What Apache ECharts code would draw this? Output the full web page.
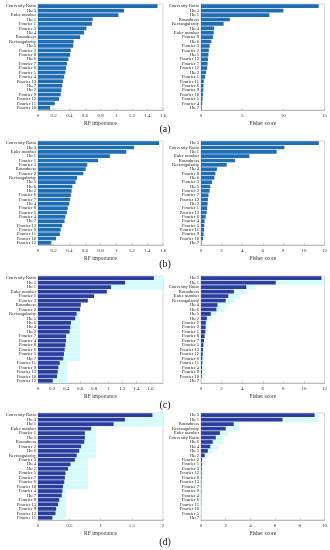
<!DOCTYPE html>
<html><head><meta charset="utf-8">
<script src="https://cdn.jsdelivr.net/npm/echarts@6/dist/echarts.min.js"></script>
<style>html,body{margin:0;padding:0;background:#fff}#c{width:330px;height:550px}</style>
</head><body><div id="c"></div>
<script>
const aLeftCats = ['Convexity Ratio','Hu 3','Euler number','Hu 1','Fourier 1','Fourier 3','Hu 4','Roundness','Rectangularity','Hu 5','Fourier 2','Fourier 8','Hu 6','Fourier 7','Fourier 6','Fourier 5','Fourier 4','Fourier 13','Hu 7','Hu 2','Fourier 9','Fourier 12','Fourier 11','Fourier 10'];
const aLeftVals = [1.53,1.10,1.03,0.70,0.69,0.62,0.59,0.54,0.455,0.45,0.42,0.41,0.39,0.37,0.36,0.35,0.335,0.32,0.31,0.30,0.29,0.27,0.215,0.155];

const aRightCats = ['Convexity Ratio','Hu 3','Hu 1','Roundness','Rectangularity','Hu 4','Euler number','Fourier 8','Hu 6','Fourier 3','Fourier 2','Hu 5','Fourier 13','Fourier 7','Fourier 12','Hu 2','Fourier 1','Fourier 11','Fourier 6','Fourier 9','Fourier 10','Fourier 5','Fourier 4','Hu 7'];
const aRightVals = [14.3,10.0,8.3,3.5,2.75,1.6,1.55,1.45,1.25,1.05,0.95,0.9,0.85,0.8,0.75,0.6,0.5,0.35,0.3,0.28,0.25,0.2,0.15,0.05];

const bLeftCats = ['Convexity Ratio','Hu 3','Euler number','Hu 1','Fourier 1','Fourier 3','Roundness','Fourier 2','Rectangularity','Hu 5','Hu 6','Hu 2','Fourier 6','Fourier 7','Hu 4','Fourier 8','Fourier 5','Fourier 4','Hu 7','Fourier 13','Fourier 9','Fourier 11','Fourier 10','Fourier 12'];
const bLeftVals = [1.55,1.23,1.13,0.92,0.77,0.63,0.61,0.58,0.50,0.48,0.44,0.43,0.42,0.41,0.40,0.38,0.37,0.35,0.34,0.31,0.29,0.28,0.23,0.17];

const bRightCats = ['Hu 3','Convexity Ratio','Hu 1','Euler number','Roundness','Rectangularity','Hu 4','Fourier 8','Hu 6','Fourier 3','Hu 5','Fourier 2','Fourier 7','Fourier 12','Hu 2','Fourier 1','Fourier 13','Fourier 6','Fourier 4','Fourier 5','Fourier 11','Fourier 9','Fourier 10','Hu 7'];
const bRightVals = [11.45,8.1,7.35,4.7,3.3,2.5,1.55,1.4,1.3,1.08,0.9,0.83,0.73,0.67,0.64,0.6,0.55,0.45,0.35,0.32,0.29,0.25,0.2,0.03];

const cLeftCats = ['Convexity Ratio','Hu 3','Hu 1','Euler number','Fourier 1','Fourier 3','Roundness','Fourier 2','Rectangularity','Hu 5','Hu 6','Hu 4','Hu 2','Fourier 7','Fourier 4','Fourier 8','Fourier 6','Fourier 5','Hu 7','Fourier 11','Fourier 9','Fourier 13','Fourier 10','Fourier 12'];
const cLeftVals = [1.65,1.24,1.04,0.98,0.80,0.71,0.61,0.60,0.55,0.53,0.47,0.46,0.45,0.40,0.40,0.39,0.38,0.37,0.36,0.31,0.29,0.28,0.27,0.21];
const cLeftShade = [1.78,1.78,1.78,1.0,0.6,0.6,0.6,0.6,0.6,0.6,0.6,0.6,0.6,0.6,0.6,0.6,0.6,0.6,0.6,0.42,0.42,0.42,0.42,0.42];

const cRightCats = ['Hu 3','Hu 1','Convexity Ratio','Roundness','Euler number','Rectangularity','Hu 4','Hu 6','Hu 5','Hu 2','Fourier 2','Fourier 3','Fourier 1','Fourier 8','Fourier 7','Fourier 5','Fourier 13','Fourier 12','Fourier 6','Fourier 11','Fourier 4','Fourier 9','Fourier 10','Hu 7'];
const cRightVals = [11.7,7.26,4.4,3.2,2.65,2.4,1.6,1.5,0.95,0.57,0.47,0.45,0.42,0.35,0.29,0.22,0.19,0.16,0.13,0.12,0.10,0.09,0.07,0.02];
const cRightShade = [11.9,11.9,5.3,4.4,3.8,3.3,2.5,2.3,1.5,1.05,0.7,0.6,0.5,0.3,0.3,0.3,0.3,0.3,0.3,0.3,0.3,0.3,0.3,0.1];

const dLeftCats = ['Convexity Ratio','Hu 3','Hu 1','Euler number','Fourier 1','Hu 5','Roundness','Fourier 2','Hu 6','Rectangularity','Fourier 3','Hu 4','Hu 2','Fourier 5','Fourier 7','Fourier 6','Fourier 10','Fourier 4','Hu 7','Fourier 8','Fourier 13','Fourier 9','Fourier 12','Fourier 11'];
const dLeftVals = [1.83,1.39,1.21,0.85,0.75,0.75,0.74,0.69,0.66,0.62,0.59,0.52,0.48,0.44,0.43,0.42,0.40,0.39,0.38,0.34,0.32,0.29,0.28,0.23];
const dLeftShade = [2.0,2.0,2.0,0.93,0.93,0.93,0.93,0.93,0.93,0.93,0.8,0.8,0.8,0.8,0.8,0.8,0.8,0.45,0.45,0.45,0.45,0.45,0.45,0.45];

const dRightCats = ['Hu 3','Hu 1','Roundness','Rectangularity','Euler number','Convexity Ratio','Hu 6','Hu 4','Hu 5','Hu 2','Fourier 2','Fourier 1','Fourier 3','Fourier 12','Fourier 8','Fourier 13','Fourier 7','Fourier 9','Fourier 4','Fourier 6','Fourier 11','Fourier 10','Fourier 5','Hu 7'];
const dRightVals = [9.2,6.6,2.65,2.0,1.53,1.2,0.95,0.75,0.55,0.3,0.08,0.07,0.06,0.05,0.05,0.04,0.03,0.03,0.02,0.02,0.02,0.01,0.01,0.005];
const dRightShade = [9.5,9.5,3.1,3.1,2.2,1.8,1.8,1.4,1.0,0.6,0.1,0.1,0.1,0.1,0.1,0.1,0.1,0.1,0.1,0.1,0.1,0.1,0.1,0.05];

const panelLetters = ['(a)','(b)','(c)','(d)'];

const FONT = 'Liberation Serif';
const BLUE = '#1f6db4';
const DARK = '#2f3c9e';
const CYAN = '#d6fbfb';

const panels = [
  {cats:aLeftCats, vals:aLeftVals, max:1.6, interval:0.2, name:'RF importance', col:0, row:0, color:BLUE},
  {cats:aRightCats, vals:aRightVals, max:15, interval:5, name:'Fisher score', col:1, row:0, color:BLUE},
  {cats:bLeftCats, vals:bLeftVals, max:1.6, interval:0.2, name:'RF importance', col:0, row:1, color:BLUE},
  {cats:bRightCats, vals:bRightVals, max:12, interval:2, name:'Fisher score', col:1, row:1, color:BLUE},
  {cats:cLeftCats, vals:cLeftVals, shade:cLeftShade, max:1.78, interval:0.2, name:'RF importance', col:0, row:2, color:DARK},
  {cats:cRightCats, vals:cRightVals, shade:cRightShade, max:12, interval:2, name:'Fisher score', col:1, row:2, color:DARK},
  {cats:dLeftCats, vals:dLeftVals, shade:dLeftShade, max:2, interval:0.5, name:'RF importance', col:0, row:3, color:DARK},
  {cats:dRightCats, vals:dRightVals, shade:dRightShade, max:10, interval:2, name:'Fisher score', col:1, row:3, color:DARK}
];

const rowTop = [4, 141, 276, 413];
const rowH = [106, 104, 107, 107];
const colLeft = [38, 201];
const colW = [125, 125];
const letterY = [130, 265, 406, 543];

const option = {animation:false, backgroundColor:'#fff', grid:[], xAxis:[], yAxis:[], series:[], graphic:[]};

panels.forEach((p, i) => {
  option.grid.push({left:colLeft[p.col], top:rowTop[p.row], width:colW[p.col], height:rowH[p.row],
    show:true, borderColor:'#bbb', borderWidth:0.6, containLabel:false});
  const ratio = p.max / p.interval;
  option.xAxis.push({type:'value', gridIndex:i, min:0, max:p.max, interval:p.interval,
    name:p.name, nameLocation:'middle', nameGap:11,
    nameTextStyle:{fontFamily:FONT, fontSize:5.5, color:'#333'},
    axisLine:{show:true, lineStyle:{color:'#999', width:0.6}},
    axisTick:{show:true, inside:true, length:1.5, lineStyle:{color:'#999', width:0.5}},
    splitLine:{show:false},
    axisLabel:{fontFamily:FONT, fontSize:5, color:'#333', margin:3, showMaxLabel: Math.abs(ratio - Math.round(ratio)) < 1e-9}
  });
  option.yAxis.push({type:'category', gridIndex:i, data:p.cats, inverse:true,
    axisLine:{show:true, lineStyle:{color:'#999', width:0.6}},
    axisTick:{show:false},
    axisLabel:{fontFamily:FONT, fontSize:4.6, color:'#222', margin:2, interval:0}
  });
  if (p.shade) {
    option.series.push({type:'bar', xAxisIndex:i, yAxisIndex:i, data:p.shade, barWidth:'100%',
      itemStyle:{color:CYAN}, silent:true, z:1});
  }
  option.series.push({type:'bar', xAxisIndex:i, yAxisIndex:i, data:p.vals, barWidth:'84%',
    barGap:'-100%', itemStyle:{color:p.color}, z:2});
});

panelLetters.forEach((t, r) => {
  option.graphic.push({type:'text', left:'center', top:letterY[r]-6,
    style:{text:t, font:'10px "Liberation Serif"', fill:'#111'}});
});

const chart = echarts.init(document.getElementById('c'), null, {renderer:'canvas'});
chart.setOption(option);
</script>
</body></html>
